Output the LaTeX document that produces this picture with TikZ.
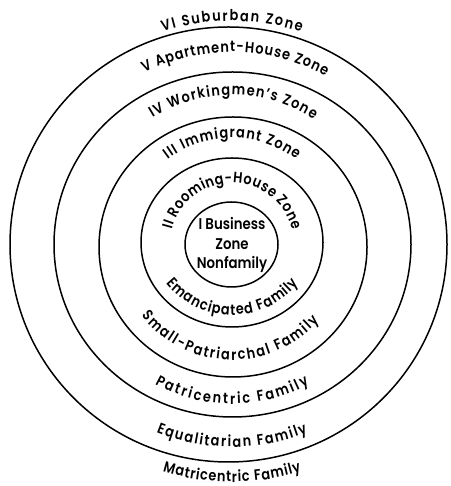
\documentclass[tikz,border=0pt]{standalone}
\usepackage{fontspec}
\setmainfont{Poppins}[BoldFont={Poppins SemiBold}, FakeStretch=0.86]
\usetikzlibrary{decorations.text}
\newcommand\lblfont{\bfseries\fontsize{15}{15}\selectfont}
\tikzset{
  ring/.style={line width=1.5pt},
  arclabel/.style={decorate, decoration={text along path, text align=fit to path, text={|\lblfont|#1}}}
}
\begin{document}
\begin{tikzpicture}[x=1pt,y=1pt]
\useasboundingbox (0,0) rectangle (450,486);
\coordinate (c) at (232,241);
\coordinate (ce) at (232,256);
% rings
\draw[ring] (228.5,241.5) ellipse[x radius=218.5pt, y radius=217.5pt];
\draw[ring] (232.5,241.5) ellipse[x radius=178.5pt, y radius=172.5pt];
\draw[ring] (233,239) ellipse[x radius=134pt, y radius=130pt];
\draw[ring] (232,243.5) ellipse[x radius=91pt, y radius=84.5pt];
\draw[ring] (231.5,241.5) ellipse[x radius=46.5pt, y radius=42.5pt];
% centre
\node[align=center, font=\bfseries\fontsize{15.5}{19.5}\selectfont] (bizzone) at (c) {I Business\\Zone\\Nonfamily};
% zone labels (top)
\path[arclabel={VI Suburban Zone}] ([shift={(108:224pt)}]c) arc[start angle=108, end angle=72, radius=224pt];
\path[arclabel={V Apartment-House Zone}] ([shift={(117:193pt)}]c) arc[start angle=117, end angle=61, radius=193pt];
\path[arclabel={IV Workingmen’s Zone}] ([shift={(122:150pt)}]c) arc[start angle=122, end angle=57, radius=150pt];
\path[arclabel={III Immigrant Zone}] ([shift={(127:107pt)}]c) arc[start angle=127, end angle=53, radius=107pt];
\path[arclabel={II Rooming-House Zone}] ([shift={(166:62pt)}]c) arc[start angle=166, end angle=14, radius=62pt];
% family labels (bottom)
\path[arclabel={Emancipated Family}] ([shift={(219:85pt)}]ce) arc[start angle=219, end angle=321, radius=85pt];
\path[arclabel={Small-Patriarchal Family}] ([shift={(218:115pt)}]c) arc[start angle=218, end angle=319, radius=115pt];
\path[arclabel={Patricentric Family}] ([shift={(241:159pt)}]c) arc[start angle=241, end angle=299, radius=159pt];
\path[arclabel={Equalitarian Family}] ([shift={(248:202pt)}]c) arc[start angle=248, end angle=292, radius=202pt];
\path[arclabel={Matricentric Family}] ([shift={(253:237pt)}]c) arc[start angle=253, end angle=287, radius=237pt];
\end{tikzpicture}
\end{document}
